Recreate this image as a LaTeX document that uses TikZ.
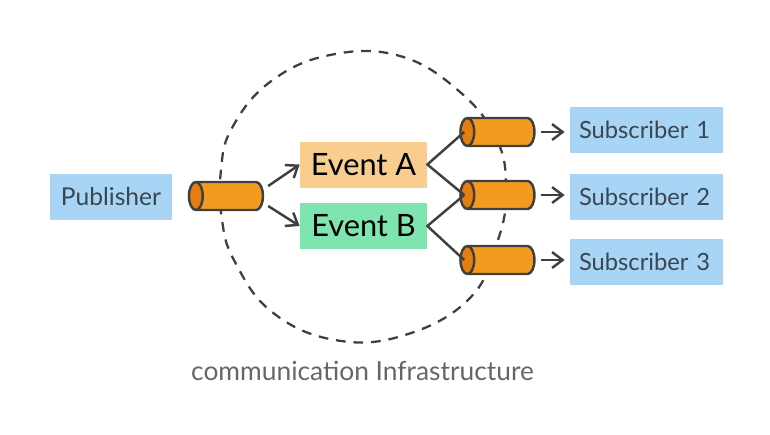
\documentclass[tikz,border=0pt]{standalone}
\usepackage{fontspec}
\setmainfont{Lato}
\usetikzlibrary{arrows.meta, shapes.geometric}
\definecolor{inkgray}{HTML}{3F3F3F}
\definecolor{skyblue}{HTML}{A8D5F5}
\definecolor{pipeorange}{HTML}{F29B1F}
\definecolor{pipedark}{HTML}{E27F10}
\definecolor{eventpeach}{HTML}{F8CD8E}
\definecolor{eventgreen}{HTML}{7FE5B0}
\definecolor{subtext}{HTML}{3B4650}

\tikzset{
    box/.style={minimum width=#1, minimum height=0.92cm, inner sep=0pt},
    subbox/.style={box=3.06cm, fill=skyblue, text=subtext, text width=2.7cm, align=left, font=\fontsize{13.5}{16}\selectfont},
    eventbox/.style={box=2.54cm, text=black, font=\fontsize{17.5}{21}\selectfont},
    pipe/.style={cylinder, shape border rotate=180, shape aspect=0.55, draw=inkgray, line width=1.4pt,
        minimum height=1.48cm, minimum width=0.56cm, inner sep=0pt, cylinder uses custom fill,
        cylinder body fill=pipeorange, cylinder end fill=pipedark},
    link/.style={draw=inkgray, line width=1.4pt, line join=round},
    flow/.style={link, -{Straight Barb[length=6pt, width=9pt, line width=1.4pt]}}
}

\begin{document}
\begin{tikzpicture}[x=0.02cm, y=-0.02cm]

    \useasboundingbox (0,0) rectangle (770,434);

    % Dashed outline of the infrastructure
    \draw[inkgray, line width=1.3pt, dash pattern=on 5.5pt off 4.5pt] plot[smooth cycle, tension=0.7] coordinates {
        (221,170) (232,128) (270,82) (330,55) (400,56) (460,92) (497,140) (506,190)
        (498,240) (470,298) (405,335) (335,340) (272,312) (235,262) (222,220)};

    \node[box=2.44cm, fill=skyblue, text=subtext, font=\fontsize{14}{17}\selectfont] (publisher) at (111,197) {Publisher};
    \node[pipe] (pubpipe) at (230,196) {\rule{0pt}{0.5cm}};

    \node[eventbox, fill=eventpeach] (eventa) at (363.5,164.5) {Event A};
    \node[eventbox, fill=eventgreen] (eventb) at (363.5,226) {Event B};

    \draw[flow] ([shift={(4,-10)}]pubpipe.east) -- (eventa.west);
    \draw[flow] ([shift={(4,10)}]pubpipe.east) -- (eventb.west);

    % Pipes and subscribers
    \foreach \n/\py/\by in {1/132/130, 2/195/196.5, 3/260/262} {
        \node[pipe] (pipe\n) at (501.5,\py) {\rule{0pt}{0.5cm}};
        \node[subbox] (sub\n) at (646.5,\by) {Subscriber~\n};
        \draw[flow] ([xshift=5*0.02cm]pipe\n.east) -- ([xshift=-5*0.02cm]sub\n.west |- pipe\n.east);
    }

    \draw[link] ([xshift=5*0.02cm]pipe1.west) -- (eventa.east) -- ([xshift=5*0.02cm]pipe2.west);
    \draw[link] ([xshift=5*0.02cm]pipe2.west) -- (eventb.east) -- ([xshift=5*0.02cm]pipe3.west);

    \node[text=black!60, font=\fontsize{15}{18}\selectfont] (infra) at (362.5,371) {communication Infrastructure};

\end{tikzpicture}
\end{document}
